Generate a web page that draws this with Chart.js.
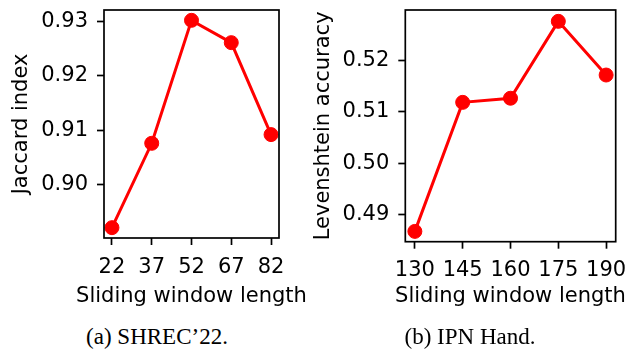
<!DOCTYPE html>
<html>
<head>
<meta charset="utf-8">
<script src="https://cdn.jsdelivr.net/npm/chart.js@4/dist/chart.umd.min.js"></script>
<style>
  html, body { margin: 0; padding: 0; background: #fff; }
  #wrap { position: relative; width: 626px; height: 351px; overflow: hidden; background: #fff; }
  canvas { position: absolute; top: 0; }
  .cap { position: absolute; top: 325px; font-family: "Liberation Serif", "Times New Roman", serif; font-size: 23px; line-height: 23px; text-align: center; color: #000; white-space: nowrap; }
</style>
</head>
<body>
<div id="wrap">
  <canvas id="c1" width="313" height="310" style="left:0px;width:313px;height:310px"></canvas>
  <canvas id="c2" width="326" height="310" style="left:300px;width:326px;height:310px"></canvas>
  <div class="cap" style="left:0px;width:314px">(a) SHREC’22.</div>
  <div class="cap" style="left:314px;width:312px">(b) IPN Hand.</div>
</div>
<script>
// ---- data ----
const shrecWindow = [22, 37, 52, 67, 82];
const shrecJaccard = [0.8921, 0.9076, 0.9302, 0.9261, 0.9092];
const shrecYTicks = [0.90, 0.91, 0.92, 0.93];

const ipnWindow = [130, 145, 160, 175, 190];
const ipnLevenshtein = [0.4868, 0.5118, 0.5126, 0.5275, 0.5171];
const ipnYTicks = [0.49, 0.50, 0.51, 0.52];

const xTitle = 'Sliding window length';
const yTitle1 = 'Jaccard index';
const yTitle2 = 'Levenshtein accuracy';

const FONT = 'DejaVu Sans';
const RED = '#ff0000';

const framePlugin = {
  id: 'frame',
  afterDraw(chart) {
    const {ctx, chartArea: a} = chart;
    ctx.save();
    ctx.strokeStyle = '#000';
    ctx.lineWidth = 1.7;
    ctx.strokeRect(a.left, a.top, a.right - a.left, a.bottom - a.top);
    // x axis title, drawn without width compression
    ctx.fillStyle = '#000';
    ctx.font = '21px "' + FONT + '"';
    ctx.textAlign = 'center';
    ctx.textBaseline = 'alphabetic';
    ctx.fillText(xTitle, (a.left + a.right) / 2, 302);
    ctx.restore();
  }
};

function makeChart(id, xs, ys, xTicks, yTicks, cfg) {
  const ctx = document.getElementById(id);
  return new Chart(ctx, {
    type: 'line',
    data: {
      datasets: [{
        data: xs.map((x, i) => ({x: x, y: ys[i]})),
        borderColor: RED,
        backgroundColor: RED,
        borderWidth: 3,
        pointRadius: 7,
        pointBorderWidth: 1,
        pointBackgroundColor: RED,
        pointBorderColor: RED,
        tension: 0,
        clip: false
      }]
    },
    options: {
      responsive: false,
      animation: false,
      devicePixelRatio: 1,
      layout: { padding: { left: 0, right: cfg.padRight, top: 10, bottom: 0 } },
      plugins: { legend: { display: false }, tooltip: { enabled: false } },
      scales: {
        x: {
          type: 'linear',
          min: cfg.xMin, max: cfg.xMax,
          afterBuildTicks: s => { s.ticks = xTicks.map(v => ({value: v})); },
          afterFit: s => { s.height = cfg.xHeight; s.paddingLeft = 0; s.paddingRight = 0; },
          grid: { drawOnChartArea: false, drawTicks: true, tickLength: 7, tickWidth: 1.7, tickColor: '#000' },
          border: { display: false },
          ticks: { color: '#000', font: { family: FONT, size: 21 }, padding: cfg.xTickPad, maxRotation: 0, autoSkip: false,
                   callback: v => String(v) },
          title: { display: false }
        },
        y: {
          type: 'linear',
          min: cfg.yMin, max: cfg.yMax,
          afterBuildTicks: s => { s.ticks = yTicks.map(v => ({value: v})); },
          afterFit: s => { s.width = cfg.yWidth; s.paddingTop = 0; s.paddingBottom = 0; },
          grid: { drawOnChartArea: false, drawTicks: true, tickLength: 7, tickWidth: 1.7, tickColor: '#000' },
          border: { display: false },
          ticks: { color: '#000', font: { family: FONT, size: 21 }, padding: 9, autoSkip: false,
                   callback: v => Number(v).toFixed(2) },
          title: { display: true, text: cfg.yTitle, color: '#000', font: { family: FONT, size: 21 }, padding: { top: cfg.yTitlePad, bottom: 0 } }
        }
      }
    },
    plugins: [framePlugin]
  });
}

makeChart('c1', shrecWindow, shrecJaccard, shrecWindow, shrecYTicks, {
  padRight: 34, xHeight: 72, yWidth: 104, xMin: 19, xMax: 85,
  yMin: 0.8902, yMax: 0.9321, xTickPad: 10, yTitle: yTitle1, yTitlePad: 8.5
});
makeChart('c2', ipnWindow, ipnLevenshtein, ipnWindow, ipnYTicks, {
  padRight: 10.3, xHeight: 68.3, yWidth: 105.3, xMin: 127, xMax: 193,
  yMin: 0.4848, yMax: 0.5297, xTickPad: 9, yTitle: yTitle2, yTitlePad: 11
});
</script>
</body>
</html>
